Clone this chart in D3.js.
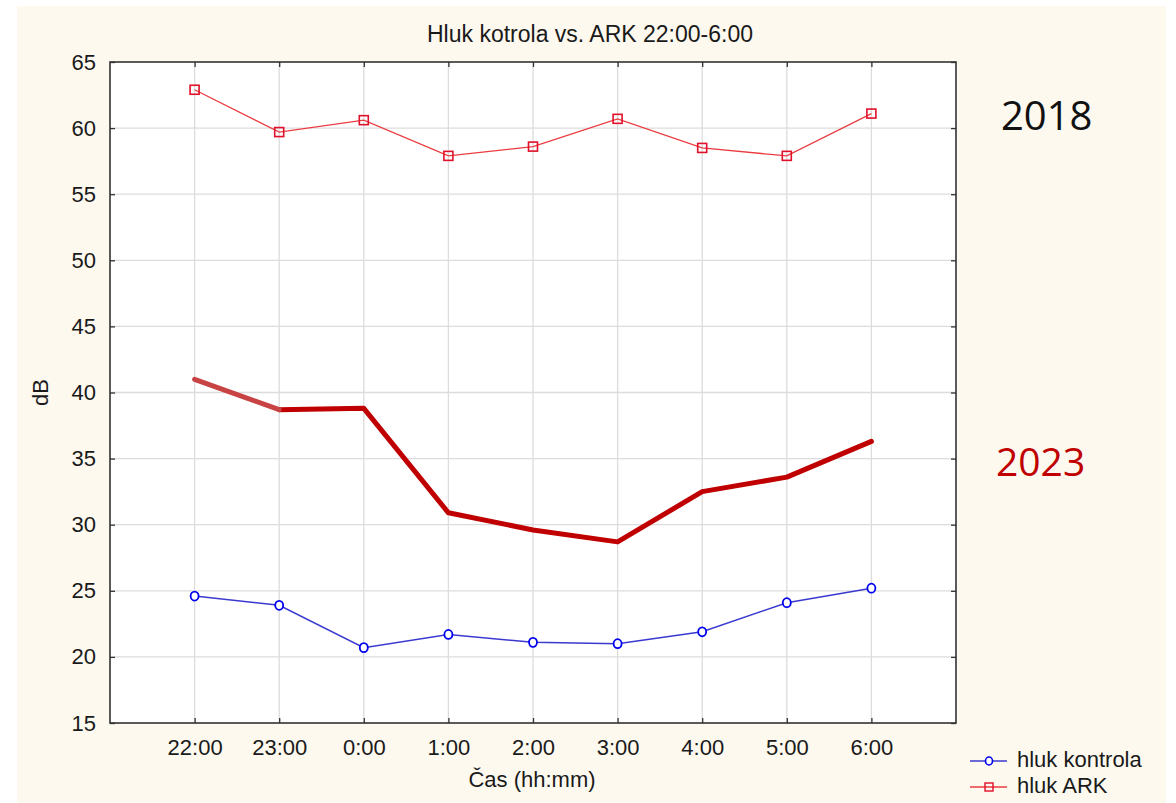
<html>
  <head>
    <script src="https://cdn.jsdelivr.net/npm/d3@7"></script>
    <meta charset="UTF-8">
    <style>
      body { margin: 0; background: #ffffff; }
      text { font-family: Arial, "Liberation Sans", sans-serif; }
    </style>
  </head>
  <body>
    <svg id="chart" width="1176" height="803"></svg>
    <script>
      // data
      var hours = ["22:00", "23:00", "0:00", "1:00", "2:00", "3:00", "4:00", "5:00", "6:00"];
      var hlukKontrola = [24.6, 23.9, 20.7, 21.7, 21.1, 21.0, 21.9, 24.1, 25.2];
      var hlukArk = [62.9, 59.7, 60.6, 57.9, 58.6, 60.7, 58.5, 57.9, 61.1];
      var hluk2023 = [41.0, 38.7, 38.8, 30.9, 29.6, 28.7, 32.5, 33.6, 36.3];
      var yTicks = [15, 20, 25, 30, 35, 40, 45, 50, 55, 60, 65];

      var svg = d3.select("#chart");
      var pLeft = 110, pRight = 956, pTop = 62, pBottom = 723;
      var txt = "#1a1a1a";

      // cream background
      svg.append("rect").attr("x", 17).attr("y", 6).attr("width", 1149).attr("height", 797)
        .attr("fill", "#fdf9ef");

      var x = d3.scalePoint().domain(hours).range([pLeft, pRight]).padding(1);
      var y = d3.scaleLinear().domain([15, 65]).range([pBottom, pTop]);

      svg.append("rect").attr("x", pLeft).attr("y", pTop).attr("width", pRight - pLeft).attr("height", pBottom - pTop)
        .attr("fill", "#ffffff");

      // grid
      svg.append("g").selectAll("line").data(yTicks.slice(1, -1)).enter().append("line")
        .attr("x1", pLeft).attr("x2", pRight)
        .attr("y1", d => y(d)).attr("y2", d => y(d))
        .attr("stroke", "#dcdcdc").attr("stroke-width", 1.3);
      svg.append("g").selectAll("line").data(hours).enter().append("line")
        .attr("x1", d => x(d)).attr("x2", d => x(d))
        .attr("y1", pTop).attr("y2", pBottom)
        .attr("stroke", "#dcdcdc").attr("stroke-width", 1.3);

      // axes with inward ticks
      var yAxis = d3.axisLeft(y).tickValues(yTicks).tickSize(-5).tickPadding(14);
      var gy = svg.append("g").attr("transform", "translate(" + pLeft + ",0)").call(yAxis);
      var gyr = svg.append("g").attr("transform", "translate(" + pRight + ",0)")
        .call(d3.axisRight(y).tickValues(yTicks).tickSize(-5).tickFormat(""));
      var xAxis = d3.axisBottom(x).tickSize(-5).tickPadding(16);
      var gx = svg.append("g").attr("transform", "translate(0," + pBottom + ")").call(xAxis);
      var gxt = svg.append("g").attr("transform", "translate(0," + pTop + ")")
        .call(d3.axisTop(x).tickSize(-5).tickFormat(""));
      [gy, gyr, gx, gxt].forEach(function(g) {
        g.select(".domain").remove();
        g.selectAll(".tick line").attr("stroke", "#333").attr("stroke-width", 1.3);
        g.selectAll(".tick text").attr("fill", txt).style("font-size", "22px")
          .style("font-family", "Arial, 'Liberation Sans', sans-serif");
      });

      svg.append("rect").attr("x", pLeft).attr("y", pTop).attr("width", pRight - pLeft).attr("height", pBottom - pTop)
        .attr("fill", "none").attr("stroke", "#333").attr("stroke-width", 1.6);

      // red ARK series
      var line = d3.line().x((d, i) => x(hours[i])).y(d => y(d));
      svg.append("path").datum(hlukArk).attr("d", line)
        .attr("fill", "none").attr("stroke", "#ea3b40").attr("stroke-width", 1.3);
      svg.append("g").selectAll("rect").data(hlukArk).enter().append("rect")
        .attr("x", (d, i) => x(hours[i]) - 4.5).attr("y", d => y(d) - 4.5)
        .attr("width", 9).attr("height", 9)
        .attr("fill", "none").attr("stroke", "#e0102a").attr("stroke-width", 1.6);

      // blue kontrola series
      svg.append("path").datum(hlukKontrola).attr("d", line)
        .attr("fill", "none").attr("stroke", "#3a3ad0").attr("stroke-width", 1.5);
      svg.append("g").selectAll("ellipse").data(hlukKontrola).enter().append("ellipse")
        .attr("cx", (d, i) => x(hours[i])).attr("cy", d => y(d))
        .attr("rx", 4).attr("ry", 4.5)
        .attr("fill", "#ffffff").attr("stroke", "#0000ee").attr("stroke-width", 1.8);

      // 2023 hand drawn line
      svg.append("path").datum(hluk2023.slice(1)).attr("d", d3.line().x((d, i) => x(hours[i + 1])).y(d => y(d)))
        .attr("fill", "none").attr("stroke", "#c00000").attr("stroke-width", 5)
        .attr("stroke-linecap", "round").attr("stroke-linejoin", "round");
      svg.append("path").datum(hluk2023.slice(0, 2)).attr("d", line)
        .attr("fill", "none").attr("stroke", "#c84444").attr("stroke-width", 5)
        .attr("stroke-linecap", "round");

      // titles
      svg.append("text").attr("x", 590).attr("y", 42).attr("text-anchor", "middle")
        .style("font-size", "23px").attr("fill", txt).text("Hluk kotrola vs. ARK 22:00-6:00");
      svg.append("text").attr("transform", "translate(48," + y(40) + ") rotate(-90)")
        .attr("text-anchor", "middle").style("font-size", "22px").attr("fill", txt).text("dB");
      svg.append("text").attr("x", 532).attr("y", 787).attr("text-anchor", "middle")
        .style("font-size", "22px").attr("fill", txt).text("Čas (hh:mm)");

      // year labels
      svg.append("text").attr("x", 1001).attr("y", 130)
        .style("font-family", "'Open Sans', sans-serif").style("font-size", "40px").attr("fill", "#111")
        .text("2018");
      svg.append("text").attr("x", 996).attr("y", 476)
        .style("font-family", "'Open Sans', sans-serif").style("font-size", "39px").attr("fill", "#c00000")
        .text("2023");

      // legend
      var legend = [
        { name: "hluk kontrola", color: "#3a3ad0", mark: "#0000ee", shape: "circle" },
        { name: "hluk ARK", color: "#ea3b40", mark: "#e0102a", shape: "square" }
      ];
      var lg = svg.append("g").selectAll("g").data(legend).enter().append("g")
        .attr("transform", (d, i) => "translate(970," + (761 + i * 26) + ")");
      lg.append("line").attr("x1", 0).attr("x2", 37).attr("y1", 0).attr("y2", 0)
        .attr("stroke", d => d.color).attr("stroke-width", 1.5);
      lg.filter(d => d.shape === "circle").append("ellipse").attr("cx", 19).attr("cy", 0)
        .attr("rx", 3.5).attr("ry", 4).attr("fill", "#fff").attr("stroke", d => d.mark).attr("stroke-width", 1.6);
      lg.filter(d => d.shape === "square").append("rect").attr("x", 15).attr("y", -4)
        .attr("width", 8).attr("height", 8).attr("fill", "none").attr("stroke", d => d.mark).attr("stroke-width", 1.4);
      lg.append("text").attr("x", 47).attr("y", 6).style("font-size", "22px").attr("fill", txt)
        .text(d => d.name);
    </script>
  </body>
</html>
